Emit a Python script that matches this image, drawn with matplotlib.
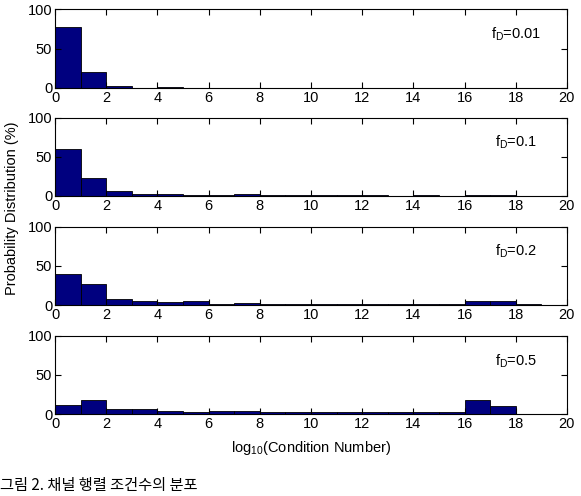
import numpy as np
import matplotlib
matplotlib.use("Agg")
import matplotlib.pyplot as plt

plt.rcParams['font.family'] = ['Liberation Sans', 'DejaVu Sans']
plt.rcParams['mathtext.fontset'] = 'custom'
plt.rcParams['mathtext.rm'] = 'Liberation Sans'
plt.rcParams['mathtext.it'] = 'Liberation Sans'

# histogram bins: log10(condition number), 0..20 in steps of 1
bin_left = np.arange(20)

# probability (%) per bin
fd_labels = ['0.01', '0.1', '0.2', '0.5']
prob_001 = [78, 20, 2.5, 0, 1, 0, 0, 0, 0, 0, 0, 0, 0, 0, 0, 0, 0, 0, 0, 0]
prob_01 = [60, 23, 6, 3, 3, 1, 1, 3, 1.5, 1.5, 1.5, 1.5, 1.5, 0.5, 1.5, 0.5, 1, 1, 0, 0]
prob_02 = [40, 27, 8, 5, 3.5, 5, 1.5, 3, 1.5, 1.5, 1.5, 1.5, 1.5, 1.5, 1.5, 1.5, 5, 5, 1.5, 0]
prob_05 = [12, 18, 6, 6, 4, 3, 4, 4, 3, 3, 3, 3, 3, 3, 3, 3, 18, 11, 0, 0]
all_probs = [prob_001, prob_01, prob_02, prob_05]

fig = plt.figure(figsize=(5.81, 4.96), dpi=100)

# axes rectangles [left, bottom, width, height] in figure fraction
left, width, height = 0.0947, 0.881, 0.158
bottoms = [0.823, 0.605, 0.385, 0.165]

for probs, fd, b in zip(all_probs, fd_labels, bottoms):
    ax = fig.add_axes([left, b, width, height])
    ax.bar(bin_left, probs, width=1.0, align='edge', color='#00007f',
           edgecolor='black', linewidth=0.6)
    ax.set_xlim(0, 20)
    ax.set_ylim(0, 100)
    ax.set_xticks(np.arange(0, 21, 2))
    ax.set_yticks([0, 50, 100])
    ax.tick_params(direction='in', top=True, right=True, labelsize=10.5,
                   length=4, width=0.8, pad=2)
    for s in ax.spines.values():
        s.set_linewidth(0.8)
    ax.text(0.9, 0.68, r'$f_D$=' + fd, transform=ax.transAxes,
            fontsize=10.5, ha='center', va='center')

fig.text(0.02, 0.58, 'Probability Distribution (%)', rotation=90,
         ha='center', va='center', fontsize=10.5)
fig.text(0.535, 0.097, r'log$_{10}$(Condition Number)', ha='center',
         va='center', fontsize=10.5)
fig.text(0.0, 0.004, '그림 2. 채널 행렬 조건수의 분포', ha='left', va='bottom',
         fontsize=11, family=['Noto Sans CJK KR', 'DejaVu Sans'])

fig.savefig('out.png', dpi=100)
